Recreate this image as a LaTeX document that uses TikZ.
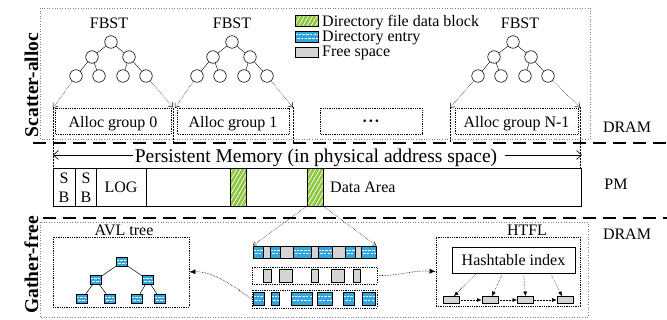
\documentclass[tikz,border=0pt]{standalone}
\usepackage{fontspec}
\setmainfont{Liberation Serif}
\usetikzlibrary{arrows.meta,patterns.meta,calc}
\definecolor{hatchgreen}{RGB}{141,198,63}
\definecolor{entryblue}{RGB}{52,166,222}
\definecolor{freegray}{RGB}{212,212,212}
\tikzset{
  region/.style={draw=black!50, dotted, line width=0.6pt},
  dbox/.style={draw=black, densely dotted, line width=0.8pt},
  sepline/.style={line width=1.5pt, dash pattern=on 13pt off 7pt},
  tc/.style={circle, draw, line width=0.6pt, minimum size=12.5pt, inner sep=0pt, fill=white},
  tl/.style={line width=0.4pt},
  leafarrow/.style={densely dotted, line width=0.5pt, -{Straight Barb[length=4pt,width=6pt]}},
  fanarrow/.style={densely dotted, line width=0.5pt, -{Straight Barb[length=3pt,width=4pt]}},
  curvarrow/.style={densely dotted, line width=0.6pt, -{Latex[length=6pt,width=5pt]}},
  harrow/.style={densely dotted, line width=0.5pt, -{Latex[length=4.5pt,width=4pt]}},
  pmarrow/.style={line width=0.6pt, -{Straight Barb[length=5pt,width=9pt]}},
  lbl/.style={anchor=base, inner sep=0pt},
  freebox/.style={draw=black, line width=0.8pt, fill=freegray},
  dentry/.style={draw=black, line width=0.7pt, fill=entryblue,
    path picture={
      \draw[white, line width=0.9pt, dash pattern=on 2.6pt off 1.1pt]
        ([yshift=1.8pt]path picture bounding box.west) -- ([yshift=1.8pt]path picture bounding box.east);
      \draw[white, line width=0.9pt, dash pattern=on 2.6pt off 1.1pt, dash phase=1.6pt]
        ([yshift=-1.8pt]path picture bounding box.west) -- ([yshift=-1.8pt]path picture bounding box.east);
    }},
  dirblk/.style={draw=black, line width=0.8pt, preaction={fill=hatchgreen},
    pattern={Lines[angle=60,distance=3.6pt,line width=0.7pt]}, pattern color=white},
}
\begin{document}
\begin{tikzpicture}[x=1pt,y=-1pt,font=\fontsize{16}{18}\selectfont]
\useasboundingbox (0,0) rectangle (667,320);

% region boxes
\draw[region] (40,8) rectangle (590,139);
\draw[region] (40,222) rectangle (588,317);

% side labels
\node[lbl, rotate=90, font=\fontsize{19.5}{22}\selectfont\bfseries] (sa) at (38,85) {Scatter-alloc};
\node[lbl, rotate=90, font=\fontsize{19.5}{22}\selectfont\bfseries] (gf) at (38,265) {Gather-free};
\node[lbl] (dram1) at (627,133) {DRAM};
\node[lbl] (pmlbl) at (616,190) {PM};
\node[lbl] (dram2) at (627,240) {DRAM};

% separators
\coordinate (s1a) at (33,143); \coordinate (s1b) at (667,143);
\coordinate (s2a) at (43,218); \coordinate (s2b) at (667,218);
\draw[sepline] (s1a) -- (s1b);
\draw[sepline] (s2a) -- (s2b);

% legend
\path[dirblk] (295,15) rectangle (318,26);
\path[dentry] (295,31) rectangle (318,42);
\path[freebox] (295,47) rectangle (318,57);
\node[lbl, anchor=base west] (lg1) at (322,27) {Directory file data block};
\node[lbl, anchor=base west] (lg2) at (322,42) {Directory entry};
\node[lbl, anchor=base west] (lg3) at (322,57) {Free space};

% vertical range markers
\coordinate (v1a) at (53,108);  \coordinate (v1b) at (53,168);
\coordinate (v2a) at (173,108); \coordinate (v2b) at (173,143);
\coordinate (v3a) at (293,107); \coordinate (v3b) at (293,143);
\coordinate (v4a) at (450,107); \coordinate (v4b) at (450,143);
\coordinate (v5a) at (580,107); \coordinate (v5b) at (580,168);
\foreach \v in {1,...,5} { \draw[densely dotted, line width=0.5pt] (v\v a) -- (v\v b); }

% alloc groups
\draw[dbox] (55,108) rectangle (171,134);
\draw[dbox] (177,108) rectangle (289,134);
\draw[dbox] (320,108) rectangle (422,134);
\draw[dbox] (455,108) rectangle (578,134);
\node[lbl] (ag0) at (113,128) {Alloc group 0};
\node[lbl] (ag1) at (233,128) {Alloc group 1};
\node[lbl] (ag2) at (371,127) {\textbf{·\kern0.8pt·\kern0.8pt·}};
\node[lbl] (ag3) at (516.5,128) {Alloc group N-1};

% FBST trees
\foreach \t/\rx/\fx/\la/\ra in {1/111/109/53/173, 2/232/232/175/293, 3/513/520/450/580} {
  \node[lbl] (fbst\t) at (\fx,29) {FBST};
  \node[tc] (t\t r) at (\rx,42) {};
  \node[tc] (t\t a) at (\rx-19,57) {};
  \node[tc] (t\t b) at (\rx+18,57) {};
  \node[tc] (t\t c) at (\rx-35,76) {};
  \node[tc] (t\t d) at (\rx-12,76) {};
  \node[tc] (t\t e) at (\rx+12,76) {};
  \node[tc] (t\t f) at (\rx+35,76) {};
  \draw[tl] (t\t r) -- (t\t a);
  \draw[tl] (t\t r) -- (t\t b);
  \draw[tl] (t\t a) -- (t\t c);
  \draw[tl] (t\t a) -- (t\t d);
  \draw[tl] (t\t b) -- (t\t e);
  \draw[tl] (t\t b) -- (t\t f);
  \coordinate (tipL\t) at (\la,108);
  \coordinate (tipR\t) at (\ra,107.5);
  \draw[leafarrow] (t\t c) -- (tipL\t);
  \draw[leafarrow] (t\t f) -- (tipR\t);
}

% persistent memory range
\node[lbl, font=\fontsize{19.5}{22}\selectfont] (pmtext) at (316,163) {Persistent Memory (in physical address space)};
\coordinate (pmL) at (53,155);
\coordinate (pmR) at (582,155);
\draw[pmarrow] ([xshift=-2pt]pmtext.west |- pmL) -- (pmL);
\draw[pmarrow] ([xshift=8pt]pmtext.east |- pmR) -- (pmR);

% PM bar
\draw[line width=0.8pt] (53,168) rectangle (581,206);
\draw[line width=0.8pt] (75,168) -- (75,206);
\draw[line width=0.8pt] (96,168) -- (96,206);
\draw[line width=0.8pt] (146,168) -- (146,206);
\path[dirblk] (230,168) rectangle (246,206);
\path[dirblk] (307,168) rectangle (323,206);
\node[lbl] (sb1s) at (64,184) {S};
\node[lbl] (sb1b) at (64,203) {B};
\node[lbl] (sb2s) at (86,184) {S};
\node[lbl] (sb2b) at (86,203) {B};
\node[lbl] (log) at (121,193) {LOG};
\node[lbl, anchor=base west] (data) at (330,193) {Data Area};
\coordinate (gbL) at (307,206);
\coordinate (gbR) at (323,206);

% rows of directory block
\foreach \a/\b in {263/270, 280/293, 311/318, 332/345, 355/361} { \path[freebox] (\a,246) rectangle (\b,258); }
\foreach \a/\b in {253/263, 270/280, 293/311, 318/332, 345/355, 361/376} { \path[dentry] (\a,246) rectangle (\b,258); }
\draw[line width=0.8pt] (253,246) rectangle (376,258);
\coordinate (r1L) at (253,245.5);
\coordinate (r1R) at (376,245.5);
\draw[fanarrow] (gbL) -- (r1L);
\draw[fanarrow] (gbR) -- (r1R);

\node[dbox, minimum width=125pt, minimum height=17pt, inner sep=0pt] (r2) at (314.5,275.5) {};
\foreach \a/\b in {263/271, 279/292, 311/318, 331/344, 353/360} { \path[freebox] (\a,269) rectangle (\b,282); }

\node[dbox, minimum width=125pt, minimum height=18pt, inner sep=0pt] (r3) at (314.5,299) {};
\foreach \a/\b in {253/264, 271/279, 291/312, 317/332, 343/354, 362/375} { \path[dentry] (\a,292) rectangle (\b,305); }

% AVL tree
\node[dbox, minimum width=136pt, minimum height=70pt, inner sep=0pt] (avl) at (121,272) {};
\node[lbl] (avllbl) at (124,236) {AVL tree};
\tikzset{avn/.style={dentry, minimum width=11.5pt, minimum height=8.5pt, inner sep=0pt}}
\node[avn] (ar) at (122,262) {};
\node[avn] (aa) at (96,280) {};
\node[avn] (ab) at (148,280) {};
\node[avn] (ac) at (82,299) {};
\node[avn] (ad) at (110,299) {};
\node[avn] (ae) at (137,299) {};
\node[avn] (af) at (160,299) {};
\draw[tl, line width=0.5pt] (ar) -- (aa);
\draw[tl, line width=0.5pt] (ar) -- (ab);
\draw[tl, line width=0.5pt] (aa) -- (ac);
\draw[tl, line width=0.5pt] (aa) -- (ad);
\draw[tl, line width=0.5pt] (ab) -- (ae);
\draw[tl, line width=0.5pt] (ab) -- (af);

% HTFL
\node[dbox, minimum width=144pt, minimum height=69pt, inner sep=0pt] (htfl) at (508,271.5) {};
\node[lbl] (htfllbl) at (527,236) {HTFL};
\node[draw, line width=0.8pt, minimum width=123pt, minimum height=26pt, inner sep=0pt] (hash) at (513.5,260) {Hashtable index};
\tikzset{lnode/.style={freebox, minimum width=16pt, minimum height=7pt, inner sep=0pt}}
\node[lnode] (l1) at (451,300) {};
\node[lnode] (l2) at (490,300) {};
\node[lnode] (l3) at (525.5,300) {};
\node[lnode] (l4) at (565,300) {};
\draw[harrow] ([xshift=25pt]hash.south west) -- ([xshift=3pt]l1.north);
\draw[harrow] ([xshift=51pt]hash.south west) -- ([xshift=2pt]l2.north);
\draw[harrow] ([xshift=72pt]hash.south west) -- (l3.north);
\draw[harrow] ([xshift=99pt]hash.south west) -- ([xshift=-3pt]l4.north);
\draw[harrow] (l1) -- (l2);
\draw[harrow] (l2) -- (l3);
\draw[harrow] (l3) -- (l4);

% curved arrows
\draw[curvarrow] (r3.west) .. controls (235,287) and (213,271) .. (avl.east);
\draw[curvarrow] (r2.east) .. controls (400,276) and (412,270) .. (htfl.west);
\end{tikzpicture}
\end{document}
